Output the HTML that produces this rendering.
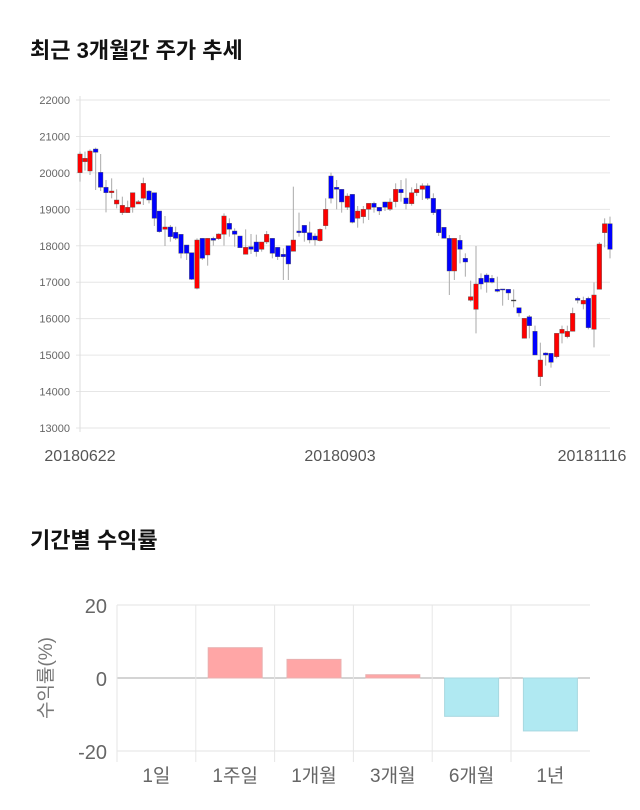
<!DOCTYPE html>
<html><head><meta charset="utf-8"><style>
body{margin:0;background:#fff;width:640px;height:810px;overflow:hidden;font-family:"Liberation Sans","Noto Sans CJK KR",sans-serif}
.t{position:absolute;left:30px;font-size:22px;font-weight:bold;color:#111}
</style></head><body>
<div class="t" style="top:33px">최근 3개월간 주가 추세</div>
<div class="t" style="top:523px">기간별 수익률</div>
<svg id="c" width="640" height="810" style="position:absolute;left:0;top:0" font-family="Liberation Sans, Noto Sans CJK KR, sans-serif"></svg>
<script>
var s='';
// top chart grid
for(var i=0;i<=9;i++){var y=100+i*36.44;s+='<line x1="76" x2="610" y1="'+y+'" y2="'+y+'" stroke="#e6e6e6"/>';
s+='<text x="70" y="'+(y+4)+'" font-size="11" fill="#666" text-anchor="end">'+(22000-i*1000)+'</text>';}
s+='<line x1="80" x2="80" y1="96" y2="432" stroke="#ddd"/>';
s+='<text x="80" y="461" font-size="16" fill="#555" text-anchor="middle">20180622</text>';
s+='<text x="340" y="461" font-size="16" fill="#555" text-anchor="middle">20180903</text>';
s+='<text x="592" y="461" font-size="16" fill="#555" text-anchor="middle">20181116</text>';
// candles: [zx, color, btop, bbot, wtop, wbot]
var z1=[[240,'r',222,278,215,305],[255,'r',235,245,215,272],[270,'r',213,273,208,285],[287,'b',207,217,203,330],[302,'b',277,322,222,333],[318,'b',322,338,300,397],[335,'r',333,338,295,355],[350,'r',360,372,328,385],[367,'r',376,398,350,405],[383,'r',382,398,362,398],[398,'r',338,382,338,398],[415,'r',365,372,360,372],[430,'r',310,355,293,375],[447,'b',333,360,330,370],[463,'b',338,415,338,438],[478,'b',393,455,393,458],[495,'r',441,448,408,498],[511,'b',441,470,435,485],[527,'b',457,475,440,480],[543,'b',463,520,463,535],[560,'b',495,520,495,540],[575,'b',518,598,518,600],[591,'r',480,625,475,628],[607,'b',475,535,475,540],[623,'r',475,525,475,557],[640,'b',475,481,470,497],[656,'r',462,476,460,480],[672,'r',408,463,400,497],[688,'b',430,448,415,470],[704,'b',453,463,445,500],[720,'b',468,503,468,503],[737,'r',502,523,448,523],[753,'b',500,508,462,522],[769,'b',486,515,464,530],[785,'r',486,508,486,515],[800,'r',463,486,453,492],[817,'b',475,520,475,535],[833,'b',502,530,502,540],[850,'b',523,530,505,600],[865,'b',497,552,497,600],[880,'r',480,514,320,514],[897,'b',453,458,398,470],[913,'b',436,458,436,485],[929,'b',458,480,425,490],[945,'b',468,480,460,497]];
var z2=[[60,'r',208,242,205,245],[77,'r',148,197,115,208],[93,'b',48,115,38,130],[110,'b',82,88,60,148],[125,'b',88,126,88,158],[142,'r',108,142,100,150],[157,'b',103,187,103,190],[173,'r',153,175,138,203],[190,'r',148,170,138,190],[206,'r',130,148,130,180],[222,'b',130,142,125,158],[238,'b',142,153,142,165],[255,'b',126,142,125,153],[270,'r',126,148,115,153],[287,'r',88,125,70,142],[303,'b',88,98,60,125],[318,'b',114,131,55,148],[335,'r',98,131,82,137],[350,'r',88,98,70,108],[367,'r',77,88,70,120],[383,'b',77,115,70,120],[400,'b',115,158,100,165],[416,'b',148,218,148,228],[432,'b',202,235,202,235],[448,'b',235,333,225,405],[463,'r',235,333,235,360],[480,'b',241,268,225,310],[496,'b',295,306,280,350],[512,'r',410,421,362,425],[528,'r',372,448,258,520],[543,'b',355,372,340,388],[560,'b',345,367,340,398],[576,'b',355,367,345,370],[592,'b',388,394,350,397],[608,'b',387,390,387,437],[625,'b',388,399,388,420],[641,'k',420,422,388,442],[657,'b',443,459,443,470],[673,'r',475,535,475,535],[688,'b',470,497,465,535],[705,'b',514,585,497,585],[721,'r',600,650,548,678],[737,'b',579,585,577,617],[753,'b',580,607,580,623],[770,'r',520,590,520,595],[786,'r',508,520,497,550],[802,'r',514,530,497,535],[818,'r',460,514,443,514],[833,'b',415,421,410,430],[850,'r',421,432,410,448],[865,'b',415,503,410,508],[882,'r',405,508,367,562],[898,'r',252,388,247,388],[914,'r',191,218,175,262],[930,'b',191,268,170,295]];
function draw(a,ox,oy){a.forEach(function(c){var x=ox+c[0]/3;
s+='<line x1="'+x+'" x2="'+x+'" y1="'+(oy+c[4]/3)+'" y2="'+(oy+c[5]/3)+'" stroke="#aaa" stroke-width="1"/>';
var col=c[1]=='r'?'#f00':c[1]=='b'?'#00f':'#333';var t=oy+c[2]/3,h=Math.max(1,(c[3]-c[2])/3);
s+='<rect x="'+(x-2.3)+'" y="'+t+'" width="4.6" height="'+h+'" fill="'+col+'" stroke="#555" stroke-width="0.4"/>';});}
draw(z1,0,80);draw(z2,300,160);
// bottom chart
for(var i=0;i<3;i++){var y=605+i*73;s+='<line x1="117" x2="590" y1="'+y+'" y2="'+y+'" stroke="'+(i==1?'#aaa':'#e3e3e3')+'"/>';
s+='<text x="107" y="'+(y+8)+'" font-size="20" fill="#666" text-anchor="end">'+(20-i*20)+'</text>';}
for(var i=0;i<6;i++){var x=117+i*78.8;s+='<line x1="'+x+'" x2="'+x+'" y1="605" y2="762" stroke="#e6e6e6"/>';}
var labs=['1일','1주일','1개월','3개월','6개월','1년'];var vals=[0,8.3,5.1,0.9,-10.5,-14.5];
for(var i=0;i<6;i++){var cx=156.4+i*78.8;s+='<text x="'+cx+'" y="782" font-size="19" fill="#666" text-anchor="middle">'+labs[i]+'</text>';
var v=vals[i];if(v!=0){var h=Math.abs(v)*3.65;var y=v>0?678-h:678;
s+='<rect x="'+(cx-27)+'" y="'+y+'" width="54" height="'+h+'" fill="'+(v>0?'#ffa6a6':'#b0e9f2')+'" stroke="'+(v>0?'#e8b0b0':'#a8d8e0')+'"/>';}}
s+='<text transform="translate(52,678) rotate(-90)" font-size="19" fill="#777" text-anchor="middle">수익률(%)</text>';
document.getElementById('c').innerHTML=s;
</script>
</body></html>
